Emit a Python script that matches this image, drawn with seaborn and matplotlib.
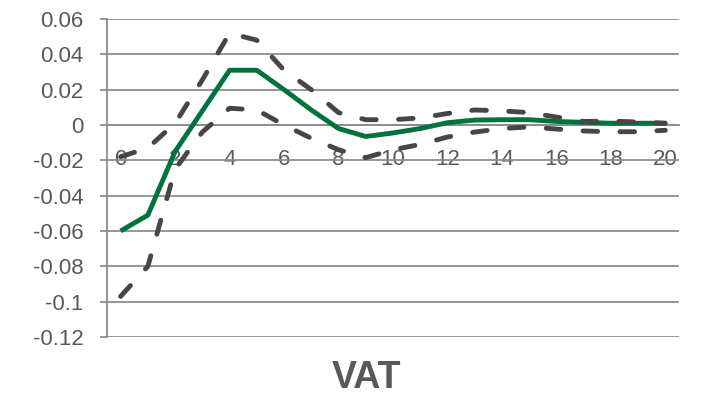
import numpy as np
import pandas as pd
import matplotlib
matplotlib.use("Agg")
import matplotlib.pyplot as plt
import seaborn as sns
from matplotlib.ticker import FixedLocator, FuncFormatter

# Impulse response of VAT with upper/lower bands
periods = list(range(21))
response = [-0.060, -0.051, -0.015, 0.008, 0.031, 0.031, 0.020, 0.0085, -0.002, -0.0065,
            -0.0045, -0.002, 0.0013, 0.0028, 0.003, 0.003, 0.002, 0.0015, 0.001, 0.001, 0.001]
upper = [-0.018, -0.013, 0.001, 0.0255, 0.052, 0.048, 0.031, 0.020, 0.007, 0.003,
         0.003, 0.004, 0.0065, 0.0085, 0.008, 0.007, 0.0045, 0.002, 0.0022, 0.0017, 0.001]
lower = [-0.097, -0.080, -0.025, -0.004, 0.0095, 0.0085, 0.000, -0.0075, -0.014, -0.0185,
         -0.014, -0.011, -0.0068, -0.004, -0.002, -0.0011, -0.0023, -0.0034, -0.0038, -0.0038, -0.003]
y_ticks = [0.06, 0.04, 0.02, 0.0, -0.02, -0.04, -0.06, -0.08, -0.10, -0.12]
title = "VAT"

df = pd.DataFrame({"period": periods, "response": response,
                   "upper": upper, "lower": lower})

sns.set_theme(style="white")
plt.rcParams["font.family"] = ["Liberation Sans", "DejaVu Sans"]

GREEN = "#00733c"
DARK = "#464646"
GRID = "#8e8e8e"
TEXT = "#595959"

fig = plt.figure(figsize=(7.02, 3.97), dpi=100)
ax = fig.add_axes([107 / 702, 1 - 337 / 397, (679 - 107) / 702, (337 - 19) / 397])

sns.lineplot(data=df, x="period", y="response", ax=ax, color=GREEN,
             linewidth=3.5, zorder=3)
for col in ["upper", "lower"]:
    sns.lineplot(data=df, x="period", y=col, ax=ax, color=DARK,
                 linewidth=3.5, zorder=4)
for line in ax.lines[1:]:
    line.set_dashes([3.0, 4.6])
    line.set_dash_capstyle("round")
ax.lines[0].set_solid_capstyle("butt")

ax.set_xlim(-0.5, 20.5)
ax.set_ylim(-0.12, 0.06)

# y axis: gridlines at every tick
ax.yaxis.set_major_locator(FixedLocator(y_ticks))
ax.yaxis.set_major_formatter(FuncFormatter(lambda v, p: "{:g}".format(round(v, 2) + 0.0)))
ax.grid(axis="y", color=GRID, linewidth=1.3)
ax.set_axisbelow(True)

# x axis sits on the zero line: labels on even periods, marks between categories
ax.spines["bottom"].set_position(("data", 0))
ax.xaxis.set_major_locator(FixedLocator(list(range(0, 21, 2))))
ax.xaxis.set_minor_locator(FixedLocator(list(np.arange(-0.5, 21, 1.0))))
ax.tick_params(axis="x", which="major", length=0, pad=17, labelsize=16, labelcolor=TEXT)
ax.tick_params(axis="x", which="minor", length=5.5, width=1.3, color=GRID, direction="out")
ax.tick_params(axis="y", which="major", left=True, length=5, width=1.3, color=GRID,
               direction="out", pad=12, labelsize=16, labelcolor=TEXT)

for side in ["top", "right"]:
    ax.spines[side].set_visible(False)
for side in ["left", "bottom"]:
    ax.spines[side].set_color(GRID)
    ax.spines[side].set_linewidth(1.3)

ax.set_xlabel("")
ax.set_ylabel("")

fig.text(366 / 702, 1.5 / 397, title, ha="center", va="bottom",
         fontsize=27, fontweight="bold", color=TEXT)

fig.savefig("out.png", dpi=100)
